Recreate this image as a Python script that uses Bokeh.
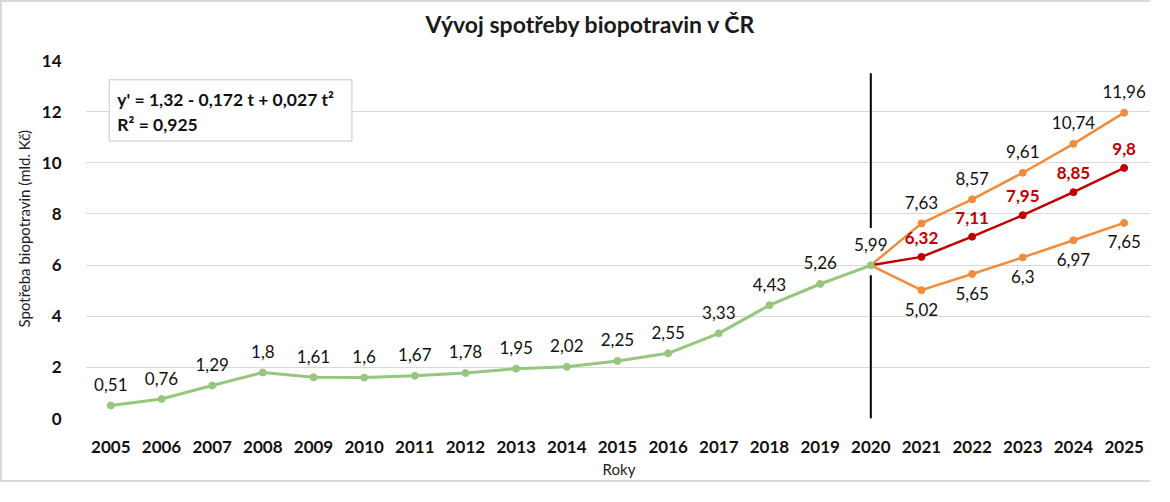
from bokeh.plotting import figure
from bokeh.models import Range1d, FixedTicker, ColumnDataSource, LabelSet, Label, Title
from bokeh.core.properties import value
from bokeh.embed import file_html
from bokeh.resources import INLINE

# ---- data ----
years_hist = list(range(2005, 2021))
values_hist = [0.51, 0.76, 1.29, 1.8, 1.61, 1.6, 1.67, 1.78, 1.95, 2.02, 2.25, 2.55, 3.33, 4.43, 5.26, 5.99]
years_fc = list(range(2020, 2026))
values_mid = [5.99, 6.32, 7.11, 7.95, 8.85, 9.8]
values_upper = [5.99, 7.63, 8.57, 9.61, 10.74, 11.96]
values_lower = [5.99, 5.02, 5.65, 6.3, 6.97, 7.65]
all_years = list(range(2005, 2026))
y_ticks = [0, 2, 4, 6, 8, 10, 12, 14]

title_text = "Vývoj spotřeby biopotravin v ČR"
y_label = "Spotřeba biopotravin (mld. Kč)"
x_label = "Roky"
eq_text = "y' = 1,32 - 0,172 t + 0,027 t²\nR² = 0,925"

GREEN = "#97C67E"
ORANGE = "#F28C3C"
RED = "#C00000"
GRID = "#D9D9D9"
FONT = "Lato"


def fmt(v):
    return str(v).replace(".", ",")


p = figure(width=1150, height=482, output_backend="svg", toolbar_location=None,
           x_range=Range1d(all_years[0] - 0.5, all_years[-1] + 0.56),
           y_range=Range1d(y_ticks[0], y_ticks[-1]),
           min_border_left=83, min_border_right=0, min_border_top=58, min_border_bottom=66)
p.styles = {"border-left": "2px solid #D9D9D9", "border-top": "2px solid #D9D9D9",
            "border-bottom": "2px solid #D9D9D9"}
p.outline_line_color = None
p.background_fill_color = "white"
p.border_fill_color = "white"

# spacer between the plot area and the chart title
p.add_layout(Title(text=" ", text_font_size="1px", standoff=20), "above")

p.title.text = title_text
p.title.align = "left"
p.title.text_font = FONT
p.title.text_font_size = "23px"
p.title.text_font_style = "bold"
p.title.text_color = "#1a1a1a"
p.title.offset = 340
p.title.standoff = 0

p.xaxis.ticker = FixedTicker(ticks=all_years)
p.yaxis.ticker = FixedTicker(ticks=y_ticks)
for ax in (p.xaxis, p.yaxis):
    ax.axis_line_color = None
    ax.major_tick_line_color = None
    ax.minor_tick_line_color = None
    ax.major_label_text_font = FONT
    ax.major_label_text_font_size = "17px"
    ax.major_label_text_font_style = "bold"
    ax.major_label_text_color = "#111111"
    ax.axis_label_text_font = FONT
    ax.axis_label_text_font_size = "15px"
    ax.axis_label_text_font_style = "normal"
    ax.axis_label_text_color = "#222222"
p.xaxis.axis_label = x_label
p.xaxis.major_label_standoff = 16
p.xaxis.axis_label_standoff = 4
p.yaxis.major_label_standoff = 18

# y-axis title (placed like the original: slightly above the plot's middle)
p.add_layout(Title(text=y_label, align="left", offset=91, standoff=12,
                   text_font=FONT, text_font_size="15px", text_font_style="normal",
                   text_color="#222222"), "left")

p.xgrid.grid_line_color = None
p.ygrid.grid_line_color = GRID
p.ygrid.grid_line_width = 1

# vertical separator at the first forecast year (gap around the label)
sep_x = years_fc[0]
p.segment(x0=[sep_x, sep_x], y0=[0, 7.45], x1=[sep_x, sep_x], y1=[5.6, 13.5],
          line_color="black", line_width=2)

# lines
p.line(years_fc, values_upper, line_color=ORANGE, line_width=2.5)
p.line(years_fc, values_lower, line_color=ORANGE, line_width=2.5)
p.line(years_fc, values_mid, line_color=RED, line_width=2.5)
p.line(years_hist, values_hist, line_color=GREEN, line_width=3)

p.scatter(years_fc[1:], values_upper[1:], size=7, color=ORANGE)
p.scatter(years_fc[1:], values_lower[1:], size=7, color=ORANGE)
p.scatter(years_fc[1:], values_mid[1:], size=7, color=RED)
p.scatter(years_hist, values_hist, size=7, color=GREEN)

# data labels
def add_labels(xs, ys, color, style, yoff):
    src = ColumnDataSource(dict(x=xs, y=ys, t=[fmt(v) for v in ys]))
    p.add_layout(LabelSet(x="x", y="y", text="t", source=src, x_offset=0, y_offset=yoff,
                          text_align="center", text_baseline="middle",
                          text_font=value(FONT), text_font_size="17px",
                          text_font_style=style, text_color=color))

add_labels(years_hist, values_hist, "#111111", "normal", 21)
add_labels(years_fc[1:], values_upper[1:], "#111111", "normal", 21)
add_labels(years_fc[1:], values_lower[1:], "#111111", "normal", -19)
add_labels(years_fc[1:], values_mid[1:], RED, "bold", 19)

# equation box
p.add_layout(Label(x=all_years[0] - 0.03, y=13.25, text=eq_text,
                   text_align="left", text_baseline="top",
                   text_font=FONT, text_font_size="17.5px", text_font_style="bold",
                   text_color="#111111",
                   padding=dict(left=8, right=18, top=9, bottom=6),
                   border_line_color=GRID, border_line_width=1.5,
                   background_fill_color="white"))

open("out.html", "w").write(file_html(p, INLINE))
